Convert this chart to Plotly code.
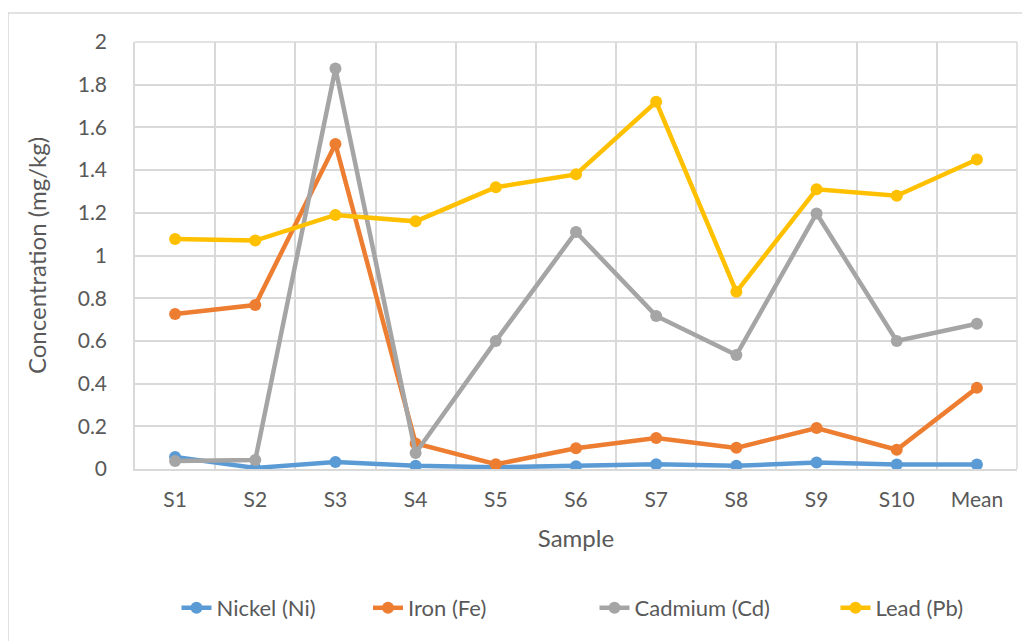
import plotly.graph_objects as go

samples = ["S1", "S2", "S3", "S4", "S5", "S6", "S7", "S8", "S9", "S10", "Mean"]
nickel = [0.056, 0.005, 0.033, 0.015, 0.008, 0.013, 0.022, 0.015, 0.03, 0.021, 0.021]
iron = [0.726, 0.768, 1.522, 0.12, 0.022, 0.097, 0.145, 0.099, 0.192, 0.09, 0.38]
cadmium = [0.037, 0.042, 1.876, 0.075, 0.6, 1.11, 0.717, 0.534, 1.197, 0.6, 0.68]
lead = [1.077, 1.07, 1.19, 1.16, 1.32, 1.38, 1.72, 0.83, 1.31, 1.28, 1.45]
y_ticks = [0, 0.2, 0.4, 0.6, 0.8, 1, 1.2, 1.4, 1.6, 1.8, 2]

series = [
    ("Nickel (Ni)", nickel, "#5B9BD5"),
    ("Iron (Fe)", iron, "#ED7D31"),
    ("Cadmium (Cd)", cadmium, "#A5A5A5"),
    ("Lead (Pb)", lead, "#FFC000"),
]
legend_px = [249, 430, 685, 902]

OFF = 8  # page body margin
W, H = 1022, 633
L, R, T, B = 135 - OFF, 13, 42 - OFF, 172
pw, ph = W - L - R, H - T - B


def px_x(p):
    return (p - OFF - L) / pw


def px_y(p):
    return (H - B + OFF - p) / ph


font_fam = "Lato, Open Sans, sans-serif"
fig = go.Figure()
legend_layouts = {}
for i, (name, vals, col) in enumerate(series):
    lg = "legend" if i == 0 else f"legend{i + 1}"
    fig.add_trace(go.Scatter(
        x=samples, y=vals, name=name, mode="lines+markers",
        line=dict(color=col, width=4.5),
        marker=dict(color=col, size=12, symbol="circle"),
        legend=lg,
    ))
    legend_layouts[lg] = dict(
        orientation="h", x=px_x(legend_px[i]), xanchor="center", y=px_y(608),
        yanchor="middle", font=dict(size=22, color="#595959"),
        bgcolor="rgba(0,0,0,0)",
    )

fig.update_layout(
    width=W, height=H,
    margin=dict(l=L, r=R, t=T, b=B, autoexpand=False),
    paper_bgcolor="white", plot_bgcolor="white",
    font=dict(family=font_fam, color="#595959", size=21),
    showlegend=True,
    xaxis=dict(
        tickson="boundaries", showgrid=True, gridcolor="#D9D9D9", gridwidth=1.5,
        showline=True, linecolor="#D9D9D9", linewidth=1.5, mirror=False,
        ticks="", tickfont=dict(size=21, color="#595959"), ticklabelstandoff=11,
        title=dict(text="Sample", font=dict(size=24, color="#595959"), standoff=20),
        range=[-0.5, len(samples) - 0.5],
    ),
    yaxis=dict(
        range=[0, 2], tickvals=y_ticks, ticktext=[f"{v:g}" for v in y_ticks],
        showgrid=True, gridcolor="#D9D9D9", gridwidth=1.5,
        zeroline=False, showline=True, linecolor="#D9D9D9", linewidth=1.5,
        ticks="", tickfont=dict(size=21, color="#595959"), ticklabelstandoff=22,
        title=dict(text="Concentration (mg/kg)", font=dict(size=24, color="#595959"), standoff=24),
    ),
    shapes=[
        dict(type="rect", xref="paper", yref="paper",
             x0=px_x(8), x1=px_x(1045),
             y0=px_y(660), y1=px_y(13),
             line=dict(color="#D9D9D9", width=1.5), fillcolor="rgba(0,0,0,0)", layer="below"),
        dict(type="line", xref="paper", yref="paper", x0=1, x1=1, y0=0, y1=1,
             line=dict(color="#D9D9D9", width=1.5), layer="below"),
        dict(type="line", xref="paper", yref="paper", x0=0, x1=1, y0=1, y1=1,
             line=dict(color="#D9D9D9", width=1.5), layer="below"),
    ],
    **legend_layouts,
)

fig.write_html("out.html")
